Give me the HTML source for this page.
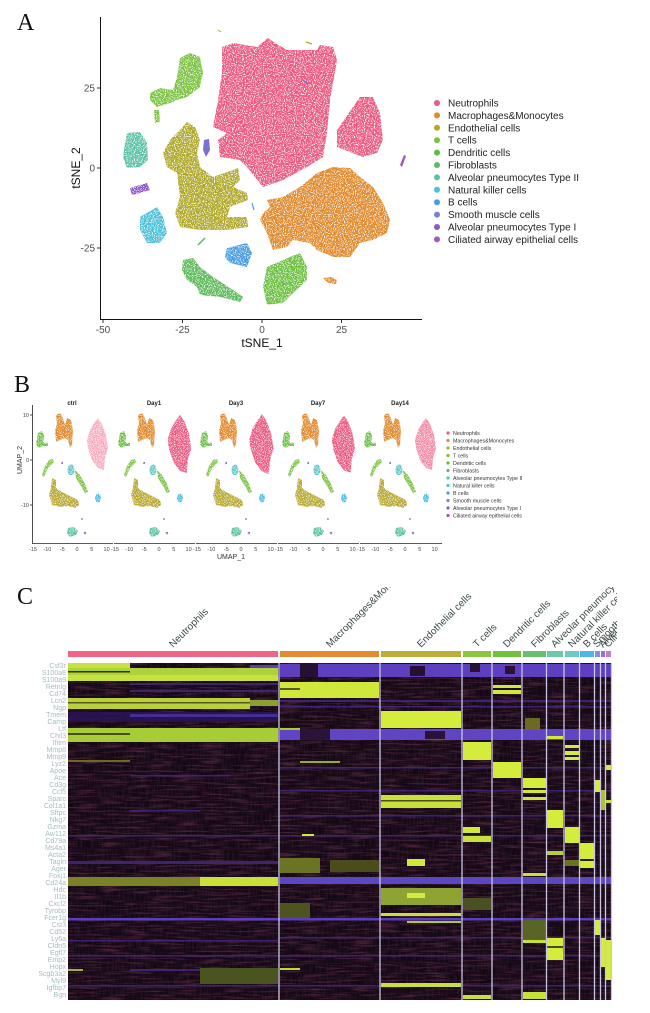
<!DOCTYPE html>
<html><head><meta charset="utf-8"><style>
html,body{margin:0;padding:0;background:#fff;}
svg{display:block;}
text{font-family:"Liberation Sans",Arial,sans-serif;}
.ser{font-family:"Liberation Serif","Times New Roman",serif;}
</style></head><body>
<svg width="650" height="1013" viewBox="0 0 650 1013" xmlns="http://www.w3.org/2000/svg">
<defs>
<filter id="spk" filterUnits="userSpaceOnUse" x="0" y="0" width="650" height="600">
 <feTurbulence type="fractalNoise" baseFrequency="0.9" numOctaves="1" seed="3" result="n"/>
 <feColorMatrix in="n" type="matrix" values="0 0 0 0 0  0 0 0 0 0  0 0 0 0 0  -7 0 0 0 4.6" result="m"/>
 <feComposite in="SourceGraphic" in2="m" operator="in"/>
</filter>
<filter id="spk2" filterUnits="userSpaceOnUse" x="0" y="380" width="650" height="180">
 <feTurbulence type="fractalNoise" baseFrequency="1.1" numOctaves="1" seed="7" result="n"/>
 <feColorMatrix in="n" type="matrix" values="0 0 0 0 0  0 0 0 0 0  0 0 0 0 0  -7 0 0 0 4.6" result="m"/>
 <feComposite in="SourceGraphic" in2="m" operator="in"/>
</filter>
<filter id="hstreak" filterUnits="userSpaceOnUse" x="68" y="663" width="544" height="337">
 <feTurbulence type="fractalNoise" baseFrequency="0.04 0.55" numOctaves="2" seed="5"/>
 <feColorMatrix type="matrix" values="0 0 0 0 0.36  0 0 0 0 0.07  0 0 0 0 0.16  1.2 0 0 0 -0.56"/>
</filter>
<filter id="vstreak" filterUnits="userSpaceOnUse" x="68" y="663" width="544" height="337">
 <feTurbulence type="fractalNoise" baseFrequency="0.7 0.08" numOctaves="1" seed="11"/>
 <feColorMatrix type="matrix" values="0 0 0 0 0.04  0 0 0 0 0.02  0 0 0 0 0.04  1.8 0 0 0 -0.7"/>
</filter>
<g id="facet">
 <g filter="url(#spk2)">
 <polygon fill="#6cbf45" points="6,433 10,431 12,436 11,446 7,448 4,444"/>
 <polygon fill="#6cbf45" points="10,442 16,443 16,446 10,446"/>
 <polygon fill="#e08a2e" points="24,415 28,413 31,418 33,425 35,418 39,420 41,430 40,445 38,448 36,440 33,438 28,440 24,442 23,430 25,424"/>
 <polygon fill="#7dc243" points="21,459 17,460 13,466 10,475 12,477 16,468 22,462"/>
 <ellipse fill="#5cc8c8" cx="39" cy="470" rx="3.5" ry="5.5"/>
 <polygon fill="#7dc243" points="43,470 48,475 53,484 56,492 53,493 49,486 44,478"/>
 <polygon fill="#b8a832" points="20,478 24,480 24,488 30,492 40,497 46,500 47,505 43,508 36,506 28,507 20,505 17,495 19,488"/>
 <ellipse fill="#4dbce0" cx="66" cy="498" rx="3" ry="4.5"/>
 <polygon fill="#5dc3a0" points="36,528 42,527 46,531 44,535 38,537 35,534"/>
 <circle fill="#8a6ad0" cx="53" cy="533" r="1.3"/>
 <circle fill="#8a6ad0" cx="50" cy="519" r="1"/>
 <circle fill="#8a6ad0" cx="30" cy="463" r="1.2"/>
 </g>
</g>
<polygon id="pinkdia" points="66,418 70,424 74,435 76,448 73,458 72,470 66,468 60,460 56,448 55,440 58,430 63,422"/>
</defs>

<!-- ================= PANEL A ================= -->
<text class="ser" x="17" y="30" font-size="24" fill="#111">A</text>
<g filter="url(#spk)">
 <polygon fill="#eb5a80" points="222,47 233,43 257,47 268,38 275,43 287,50 317,50 320,45 333,47 337,60 333,83 330,100 327,133 323,157 307,167 283,180 263,187 247,167 240,160 220,157 218,140 227,133 213,127 218,100 222,73"/>
 <polygon fill="#eb5a80" points="337,130 360,97 373,97 380,113 383,140 377,153 363,157 337,147"/>
 <polygon fill="#e08a2e" points="267,200 283,197 300,187 317,173 333,167 350,168 360,177 373,187 383,203 390,220 387,233 373,240 360,243 350,257 333,257 317,250 310,243 293,240 287,247 273,250 267,233 260,220 263,213 270,207"/>
 <polygon fill="#e08a2e" points="323,278 331,277 337,280 336,284 328,283"/>
 <polygon fill="#b0a82c" points="187,122 195,127 200,140 197,153 200,167 213,177 233,170 238,168 240,180 233,187 247,193 248,200 240,203 230,207 227,217 247,217 248,227 227,230 217,230 200,230 180,227 175,213 180,197 177,173 167,167 163,153 170,140 180,130"/>
 <polygon fill="#7cc242" points="180,58 190,53 200,57 203,73 200,87 187,97 177,100 170,103 157,107 150,100 150,93 160,88 173,90 177,77"/>
 <polygon fill="#7cc242" points="154,110 159,110 160,122 155,123"/>
 <polygon fill="#5cc2a6" points="127,133 140,132 147,143 148,160 140,167 127,168 123,157 125,143"/>
 <polygon fill="#8a56c0" points="130,188 147,183 150,190 140,193 132,195"/>
 <polygon fill="#4ec0d8" points="140,217 157,207 163,217 167,233 160,243 147,243 140,230"/>
 <polygon fill="#4a9ce0" points="227,248 247,243 252,253 247,267 230,263 225,257"/>
 <polygon fill="#5fba5c" points="183,260 193,258 200,267 213,277 233,290 243,297 240,302 220,297 200,295 197,287 187,280 182,270"/>
 <polygon fill="#6dbf42" points="267,267 290,257 300,253 307,267 307,280 293,293 283,303 267,305 263,287"/>
</g>
<polygon fill="#9a58c0" points="400,165 404,155 406,156 402,167"/>
<polygon fill="#7a70d0" points="204,140 209,139 210,150 206,157 203,150"/>
<line x1="252" y1="203" x2="254" y2="210" stroke="#4a9ce0" stroke-width="1.2"/>
<line x1="303" y1="80" x2="308" y2="84" stroke="#7a70d0" stroke-width="1.5"/>
<line x1="198" y1="245" x2="205" y2="238" stroke="#5fba5c" stroke-width="1.5"/>
<line x1="218" y1="30" x2="221" y2="32" stroke="#b0a82c" stroke-width="1"/>
<line x1="306" y1="42" x2="312" y2="44" stroke="#b0a82c" stroke-width="1.2"/>
<line x1="100.5" y1="17" x2="100.5" y2="319.5" stroke="#111" stroke-width="1"/>
<line x1="100" y1="319.5" x2="422" y2="319.5" stroke="#111" stroke-width="1"/>
<g stroke="#333" stroke-width="1">
 <line x1="97" y1="88" x2="100" y2="88"/><line x1="97" y1="168" x2="100" y2="168"/><line x1="97" y1="248" x2="100" y2="248"/>
 <line x1="103" y1="320" x2="103" y2="323"/><line x1="182.5" y1="320" x2="182.5" y2="323"/><line x1="262" y1="320" x2="262" y2="323"/><line x1="341.5" y1="320" x2="341.5" y2="323"/>
</g>
<g font-size="10" fill="#4d4d4d">
 <text x="95" y="91.5" text-anchor="end">25</text>
 <text x="95" y="171.5" text-anchor="end">0</text>
 <text x="95" y="251.5" text-anchor="end">-25</text>
 <text x="103" y="333" text-anchor="middle">-50</text>
 <text x="182.5" y="333" text-anchor="middle">-25</text>
 <text x="262" y="333" text-anchor="middle">0</text>
 <text x="341.5" y="333" text-anchor="middle">25</text>
</g>
<text x="262" y="347" font-size="12" fill="#111" text-anchor="middle">tSNE_1</text>
<text transform="translate(80,168) rotate(-90)" font-size="12" fill="#111" text-anchor="middle">tSNE_2</text>
<g font-size="10" fill="#222">
 <circle cx="437" cy="103" r="3" fill="#eb5a80"/><text x="448" y="106.5">Neutrophils</text>
 <circle cx="437" cy="115.4" r="3" fill="#e08a2e"/><text x="448" y="118.9">Macrophages&amp;Monocytes</text>
 <circle cx="437" cy="127.8" r="3" fill="#b0a82c"/><text x="448" y="131.3">Endothelial cells</text>
 <circle cx="437" cy="140.2" r="3" fill="#7cc242"/><text x="448" y="143.7">T cells</text>
 <circle cx="437" cy="152.6" r="3" fill="#5fba45"/><text x="448" y="156.1">Dendritic cells</text>
 <circle cx="437" cy="165" r="3" fill="#5fba6a"/><text x="448" y="168.5">Fibroblasts</text>
 <circle cx="437" cy="177.4" r="3" fill="#5cc2a6"/><text x="448" y="180.9">Alveolar pneumocytes Type II</text>
 <circle cx="437" cy="189.8" r="3" fill="#4ec0d8"/><text x="448" y="193.3">Natural killer cells</text>
 <circle cx="437" cy="202.2" r="3" fill="#4a9ce0"/><text x="448" y="205.7">B cells</text>
 <circle cx="437" cy="214.6" r="3" fill="#7a80d6"/><text x="448" y="218.1">Smooth muscle cells</text>
 <circle cx="437" cy="227" r="3" fill="#8a5ac8"/><text x="448" y="230.5">Alveolar pneumocytes Type I</text>
 <circle cx="437" cy="239.4" r="3" fill="#a459b8"/><text x="448" y="242.9">Ciliated airway epithelial cells</text>
</g>

<!-- ================= PANEL B ================= -->
<text class="ser" x="14" y="392" font-size="24" fill="#111">B</text>
<g font-size="6" font-weight="bold" fill="#222" text-anchor="middle">
 <text x="72" y="405">ctrl</text><text x="154" y="405">Day1</text><text x="236" y="405">Day3</text><text x="318" y="405">Day7</text><text x="400" y="405">Day14</text>
</g>
<g filter="url(#spk2)">
 <use href="#pinkdia" transform="translate(32,0)" fill="#eb5a80" opacity="0.5"/>
 <use href="#pinkdia" transform="translate(114,0) translate(66,444) scale(1.12) translate(-66,-444)" fill="#eb5a80"/>
 <use href="#pinkdia" transform="translate(196,0) translate(66,444) scale(1.15) translate(-66,-444)" fill="#eb5a80"/>
 <use href="#pinkdia" transform="translate(278,0) translate(66,444) scale(1.1) translate(-66,-444)" fill="#eb5a80"/>
 <use href="#pinkdia" transform="translate(360,0)" fill="#eb5a80" opacity="0.7"/>
</g>
<use href="#facet" transform="translate(32,0)"/>
<use href="#facet" transform="translate(114,0)"/>
<use href="#facet" transform="translate(196,0)"/>
<use href="#facet" transform="translate(278,0)"/>
<use href="#facet" transform="translate(360,0)"/>
<line x1="32.5" y1="405" x2="32.5" y2="543.5" stroke="#222" stroke-width="0.8"/>
<g stroke="#222" stroke-width="0.8">
 <line x1="32" y1="543.5" x2="113" y2="543.5"/><line x1="114" y1="543.5" x2="195" y2="543.5"/><line x1="196" y1="543.5" x2="277" y2="543.5"/><line x1="278" y1="543.5" x2="359" y2="543.5"/><line x1="360" y1="543.5" x2="442" y2="543.5"/>
 <line x1="30" y1="415" x2="32" y2="415"/><line x1="30" y1="460" x2="32" y2="460"/><line x1="30" y1="505" x2="32" y2="505"/>
</g>
<g font-size="5.5" fill="#444" text-anchor="end">
 <text x="29" y="417">10</text><text x="29" y="462">0</text><text x="29" y="507">-10</text>
</g>
<g font-size="5.5" fill="#444" text-anchor="middle">
 <text x="33" y="551">-15</text><text x="47.4" y="551">-10</text><text x="62.2" y="551">-5</text><text x="77" y="551">0</text><text x="91.8" y="551">5</text><text x="106.6" y="551">10</text>
 <text x="115" y="551">-15</text><text x="129.4" y="551">-10</text><text x="144.2" y="551">-5</text><text x="159" y="551">0</text><text x="173.8" y="551">5</text><text x="188.6" y="551">10</text>
 <text x="197" y="551">-15</text><text x="211.4" y="551">-10</text><text x="226.2" y="551">-5</text><text x="241" y="551">0</text><text x="255.8" y="551">5</text><text x="270.6" y="551">10</text>
 <text x="279" y="551">-15</text><text x="293.4" y="551">-10</text><text x="308.2" y="551">-5</text><text x="323" y="551">0</text><text x="337.8" y="551">5</text><text x="352.6" y="551">10</text>
 <text x="361" y="551">-15</text><text x="375.4" y="551">-10</text><text x="390.2" y="551">-5</text><text x="405" y="551">0</text><text x="419.8" y="551">5</text><text x="434.6" y="551">10</text>
</g>
<text x="231" y="559" font-size="7" fill="#333" text-anchor="middle">UMAP_1</text>
<text transform="translate(22,460) rotate(-90)" font-size="7" fill="#333" text-anchor="middle">UMAP_2</text>
<g font-size="5.3" fill="#333">
 <circle cx="448" cy="433" r="1.6" fill="#eb5a80"/><text x="453" y="435">Neutrophils</text>
 <circle cx="448" cy="440.5" r="1.6" fill="#e08a2e"/><text x="453" y="442.5">Macrophages&amp;Monocytes</text>
 <circle cx="448" cy="448" r="1.6" fill="#b0a82c"/><text x="453" y="450">Endothelial cells</text>
 <circle cx="448" cy="455.5" r="1.6" fill="#7cc242"/><text x="453" y="457.5">T cells</text>
 <circle cx="448" cy="463" r="1.6" fill="#5fba45"/><text x="453" y="465">Dendritic cells</text>
 <circle cx="448" cy="470.5" r="1.6" fill="#5fba6a"/><text x="453" y="472.5">Fibroblasts</text>
 <circle cx="448" cy="478" r="1.6" fill="#5cc2a6"/><text x="453" y="480">Alveolar pneumocytes Type II</text>
 <circle cx="448" cy="485.5" r="1.6" fill="#4ec0d8"/><text x="453" y="487.5">Natural killer cells</text>
 <circle cx="448" cy="493" r="1.6" fill="#4a9ce0"/><text x="453" y="495">B cells</text>
 <circle cx="448" cy="500.5" r="1.6" fill="#7a80d6"/><text x="453" y="502.5">Smooth muscle cells</text>
 <circle cx="448" cy="508" r="1.6" fill="#8a5ac8"/><text x="453" y="510">Alveolar pneumocytes Type I</text>
 <circle cx="448" cy="515.5" r="1.6" fill="#a459b8"/><text x="453" y="517.5">Ciliated airway epithelial cells</text>
</g>

<!-- ================= PANEL C ================= -->
<text class="ser" x="17" y="604" font-size="24" fill="#111">C</text>
<clipPath id="lblclip"><rect x="0" y="587" width="617" height="70"/></clipPath>
<g clip-path="url(#lblclip)" font-size="10" fill="#3a4848">
 <text transform="translate(173,648) rotate(-45)">Neutrophils</text>
 <text transform="translate(330,648) rotate(-45)">Macrophages&amp;Monocytes</text>
 <text transform="translate(421,648) rotate(-45)">Endothelial cells</text>
 <text transform="translate(477,648) rotate(-45)">T cells</text>
 <text transform="translate(507,648) rotate(-45)">Dendritic cells</text>
 <text transform="translate(535,648) rotate(-45)">Fibroblasts</text>
 <text transform="translate(555,648) rotate(-45)">Alveolar pneumocytes Type II</text>
 <text transform="translate(572,648) rotate(-45)">Natural killer cells</text>
 <text transform="translate(587,648) rotate(-45)">B cells</text>
 <text transform="translate(597,648) rotate(-45)">Smooth muscle cells</text>
 <text transform="translate(603,648) rotate(-45)">Alveolar pneumocytes Type I</text>
 <text transform="translate(608,648) rotate(-45)">Ciliated airway epithelial cells</text>
</g>
<g>
 <rect x="68" y="651" width="210" height="6" fill="#ee6588"/>
 <rect x="280" y="651" width="99" height="6" fill="#e38b30"/>
 <rect x="381" y="651" width="80" height="6" fill="#bdae3a"/>
 <rect x="463" y="651" width="28" height="6" fill="#8cc63f"/>
 <rect x="493" y="651" width="28" height="6" fill="#72c040"/>
 <rect x="523" y="651" width="23" height="6" fill="#66c070"/>
 <rect x="547" y="651" width="16" height="6" fill="#6cc8a8"/>
 <rect x="565" y="651" width="14" height="6" fill="#70c8c8"/>
 <rect x="580" y="651" width="14" height="6" fill="#4db8e8"/>
 <rect x="595" y="651" width="5" height="6" fill="#8f8fe0"/>
 <rect x="601" y="651" width="4" height="6" fill="#9a70d8"/>
 <rect x="606" y="651" width="5" height="6" fill="#c080d0"/>
</g>
<rect x="68" y="663" width="544" height="337" fill="#140714"/>
<rect x="68" y="663" width="544" height="337" filter="url(#hstreak)"/>
<rect x="68" y="663" width="544" height="337" filter="url(#vstreak)" opacity="0.6"/>
<g>
 <g fill="#44287e" opacity="0.85">
  <rect x="130" y="683" width="148" height="2"/><rect x="130" y="690" width="148" height="2"/>
  <rect x="68" y="712" width="210" height="10" fill="#2a1458"/>
  <rect x="130" y="714" width="148" height="3" fill="#4a34a8"/>
  <rect x="130" y="775" width="100" height="1.5"/>
  <rect x="130" y="810" width="70" height="1.5"/>
  <rect x="68" y="835" width="544" height="1.5"/>
  <rect x="68" y="861" width="210" height="3"/>
  <rect x="68" y="940" width="210" height="1.5"/>
  <rect x="68" y="955" width="544" height="1.5"/>
  <rect x="130" y="969" width="70" height="2"/>
  <rect x="68" y="985" width="544" height="1.5"/>
  <rect x="280" y="700" width="332" height="2"/>
  <rect x="280" y="706" width="332" height="1.5"/>
  <rect x="280" y="767" width="332" height="1.5"/>
  <rect x="280" y="790" width="332" height="1.5"/>
  <rect x="280" y="815" width="332" height="1.5"/>
  <rect x="280" y="937" width="332" height="1.5"/>
 </g>
 <rect x="68" y="918" width="544" height="2.5" fill="#5a40b8"/>
 <rect x="280" y="877" width="332" height="7" fill="#5a48c0"/>
 <rect x="280" y="664" width="332" height="13" fill="#5c40c0"/>
 <rect x="300" y="664" width="18" height="13" fill="#261034"/>
 <rect x="410" y="666" width="15" height="10" fill="#261034"/>
 <rect x="470" y="664" width="10" height="8" fill="#2a1234"/>
 <rect x="505" y="666" width="10" height="8" fill="#2a1234"/>
 <rect x="250" y="665" width="28" height="4" fill="#5a40b0"/>
 <rect x="280" y="729" width="332" height="11" fill="#5f44c4"/>
 <rect x="300" y="729" width="30" height="11" fill="#2a1238"/>
 <rect x="425" y="731" width="20" height="8" fill="#2a1238"/>
 <rect x="68" y="663" width="62" height="5" fill="#c8e040"/>
 <rect x="68" y="668" width="210" height="7" fill="#aed23a"/>
 <rect x="68" y="675" width="210" height="6" fill="#c6e23c"/>
 <rect x="68" y="671" width="62" height="1.5" fill="#3a2a10"/>
 <rect x="68" y="698" width="182" height="11" fill="#b8d03e"/>
 <rect x="250" y="700" width="28" height="6" fill="#8aa030"/>
 <rect x="68" y="702" width="182" height="1.5" fill="#5a5a18"/>
 <rect x="68" y="728" width="210" height="14" fill="#a8cc38"/>
 <rect x="68" y="733" width="62" height="2" fill="#4a4a18"/>
 <rect x="68" y="760" width="62" height="2" fill="#6a6a20"/>
 <rect x="68" y="877" width="132" height="9" fill="#7a8228"/>
 <rect x="200" y="877" width="78" height="9" fill="#c8e03c"/>
 <rect x="200" y="968" width="78" height="16" fill="#4a5420"/>
 <rect x="68" y="969" width="15" height="2" fill="#a0b030"/>
 <rect x="280" y="682" width="99" height="16" fill="#d0e83c"/>
 <rect x="280" y="688" width="20" height="2" fill="#5a5a20"/>
 <rect x="280" y="728" width="20" height="2" fill="#b0c838"/>
 <rect x="300" y="761" width="40" height="2" fill="#9aaa30"/>
 <rect x="302" y="834" width="12" height="2" fill="#d0e83c"/>
 <rect x="280" y="858" width="40" height="15" fill="#6a7424"/>
 <rect x="330" y="860" width="49" height="12" fill="#4a4c1c"/>
 <rect x="280" y="903" width="30" height="15" fill="#4e5420"/>
 <rect x="280" y="968" width="20" height="2" fill="#c0d83a"/>
 <rect x="381" y="711" width="80" height="17" fill="#d4ec3c"/>
 <rect x="381" y="795" width="80" height="13" fill="#c8e03a"/>
 <rect x="381" y="800" width="80" height="1.5" fill="#4a4a18"/>
 <rect x="407" y="859" width="18" height="7" fill="#d0e83c"/>
 <rect x="381" y="888" width="80" height="17" fill="#8ea432"/>
 <rect x="407" y="893" width="18" height="5" fill="#d4ec3c"/>
 <rect x="381" y="913" width="80" height="3" fill="#c8e03a"/>
 <rect x="407" y="921" width="54" height="2" fill="#b0c838"/>
 <rect x="381" y="983" width="80" height="4" fill="#c8e03a"/>
 <rect x="463" y="742" width="28" height="18" fill="#d4ec3c"/>
 <rect x="463" y="827" width="17" height="6" fill="#d0e83c"/>
 <rect x="463" y="836" width="28" height="6" fill="#c8e03a"/>
 <rect x="463" y="898" width="28" height="12" fill="#4a5020"/>
 <rect x="463" y="995" width="28" height="4" fill="#c8e03a"/>
 <rect x="493" y="685" width="28" height="3" fill="#d0e83c"/>
 <rect x="493" y="690" width="28" height="4" fill="#d0e83c"/>
 <rect x="493" y="762" width="28" height="16" fill="#d4ec3c"/>
 <rect x="525" y="718" width="15" height="12" fill="#6a6a20"/>
 <rect x="523" y="778" width="23" height="10" fill="#d4ec3c"/>
 <rect x="523" y="790" width="23" height="3" fill="#d0e83c"/>
 <rect x="523" y="797" width="23" height="3" fill="#d0e83c"/>
 <rect x="523" y="873" width="23" height="3" fill="#c8e03a"/>
 <rect x="523" y="920" width="23" height="20" fill="#5a6424"/>
 <rect x="523" y="940" width="23" height="3" fill="#c8e03a"/>
 <rect x="523" y="992" width="23" height="7" fill="#c8e03a"/>
 <rect x="547" y="736" width="16" height="3" fill="#d0e83c"/>
 <rect x="547" y="810" width="16" height="18" fill="#d4ec3c"/>
 <rect x="547" y="851" width="16" height="4" fill="#b8d038"/>
 <rect x="547" y="938" width="16" height="22" fill="#d4ec3c"/>
 <rect x="547" y="946" width="16" height="2" fill="#4a4a18"/>
 <rect x="565" y="745" width="14" height="3" fill="#d4ec3c"/>
 <rect x="565" y="751" width="14" height="4" fill="#d4ec3c"/>
 <rect x="565" y="757" width="14" height="3" fill="#d4ec3c"/>
 <rect x="565" y="827" width="14" height="16" fill="#d4ec3c"/>
 <rect x="565" y="860" width="14" height="6" fill="#6a7024"/>
 <rect x="580" y="843" width="14" height="25" fill="#d4ec3c"/>
 <rect x="580" y="859" width="14" height="2" fill="#2a1a10"/>
 <rect x="595" y="780" width="5" height="12" fill="#d4ec3c"/>
 <rect x="595" y="920" width="5" height="15" fill="#d4ec3c"/>
 <rect x="601" y="790" width="4" height="20" fill="#a8c038"/>
 <rect x="601" y="938" width="4" height="29" fill="#d4ec3c"/>
 <rect x="606" y="765" width="5" height="5" fill="#d4ec3c"/>
 <rect x="606" y="800" width="5" height="3" fill="#c8e03a"/>
 <rect x="606" y="940" width="5" height="40" fill="#d4ec3c"/>
</g>
<g stroke="#c8c6e2" stroke-width="1.3">
 <line x1="279" y1="663" x2="279" y2="1000"/>
 <line x1="380" y1="663" x2="380" y2="1000"/>
 <line x1="462" y1="663" x2="462" y2="1000"/>
 <line x1="492" y1="663" x2="492" y2="1000"/>
 <line x1="522" y1="663" x2="522" y2="1000"/>
 <line x1="546.5" y1="663" x2="546.5" y2="1000"/>
 <line x1="564" y1="663" x2="564" y2="1000"/>
 <line x1="579.5" y1="663" x2="579.5" y2="1000"/>
 <line x1="594.5" y1="663" x2="594.5" y2="1000"/>
 <line x1="600.5" y1="663" x2="600.5" y2="1000"/>
 <line x1="605.5" y1="663" x2="605.5" y2="1000"/>
 <line x1="611.5" y1="663" x2="611.5" y2="1000"/>
</g>
<g font-size="7" fill="#a6bcc2" text-anchor="end">
 <text x="66" y="668">Csf3r</text><text x="66" y="675">S100a8</text><text x="66" y="682">S100a9</text><text x="66" y="689">Retnlg</text>
 <text x="66" y="696">Cd74</text><text x="66" y="703">Lcn2</text><text x="66" y="710">Ngp</text><text x="66" y="717">Tmem</text>
 <text x="66" y="724">Camp</text><text x="66" y="731">Ltf</text><text x="66" y="738">Chil3</text><text x="66" y="745">Ifitm</text>
 <text x="66" y="752">Mmp8</text><text x="66" y="759">Mmp9</text><text x="66" y="766">Lyz2</text><text x="66" y="773">Apoe</text>
 <text x="66" y="780">Ace</text><text x="66" y="787">Cd3g</text><text x="66" y="794">Ccl5</text><text x="66" y="801">Sparc</text>
 <text x="66" y="808">Col1a1</text><text x="66" y="815">Sftpc</text><text x="66" y="822">Nkg7</text><text x="66" y="829">Gzma</text>
 <text x="66" y="836">Aw112</text><text x="66" y="843">Cd79a</text><text x="66" y="850">Ms4a1</text><text x="66" y="857">Acta2</text>
 <text x="66" y="864">Tagln</text><text x="66" y="871">Ager</text><text x="66" y="878">Foxj1</text><text x="66" y="885">Cd24a</text>
 <text x="66" y="892">Hdc</text><text x="66" y="899">Il1b</text><text x="66" y="906">Cxcl2</text><text x="66" y="913">Tyrobp</text>
 <text x="66" y="920">Fcer1g</text><text x="66" y="927">Cst3</text><text x="66" y="934">Cd52</text><text x="66" y="941">Ly6a</text>
 <text x="66" y="948">Cldn5</text><text x="66" y="955">Egfl7</text><text x="66" y="962">Emp2</text><text x="66" y="969">Hopx</text>
 <text x="66" y="976">Scgb3a2</text><text x="66" y="983">Myl9</text><text x="66" y="990">Igfbp7</text><text x="66" y="997">Bgn</text>
</g>
</svg>
</body></html>
